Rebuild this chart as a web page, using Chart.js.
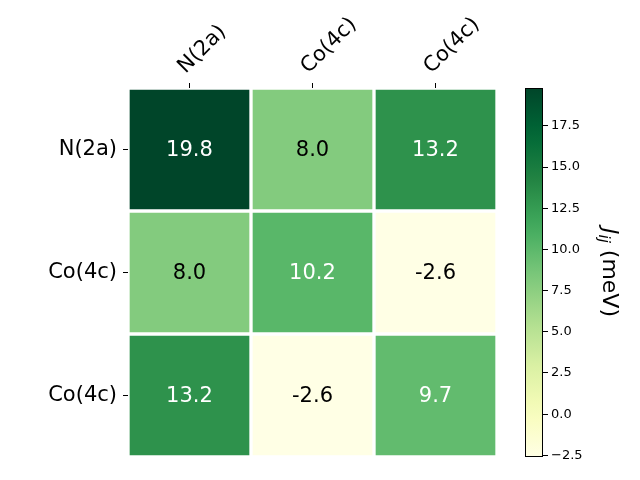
<!DOCTYPE html>
<html>
<head>
<meta charset="utf-8">
<script src="https://cdn.jsdelivr.net/npm/chart.js@4.4.1/dist/chart.umd.min.js"></script>
<style>
  body { margin: 0; background: #fff; }
  #wrap { position: relative; width: 640px; height: 480px; }
  canvas { position: absolute; left: 0; top: 0; }
</style>
</head>
<body>
<div id="wrap">
  <canvas id="heat" width="640" height="480"></canvas>
  <canvas id="cbar" width="640" height="480"></canvas>
</div>
<script>
// datos
const rowLabels = ['N(2a)', 'Co(4c)', 'Co(4c)'];
const colLabels = ['N(2a)', 'Co(4c)', 'Co(4c)'];
const row0 = [19.8, 8.0, 13.2];
const row1 = [8.0, 10.2, -2.6];
const row2 = [13.2, -2.6, 9.7];
const rows = [row0, row1, row2];
const vmin = -2.6;
const vmax = 19.8;
const cbarTicks = [-2.5, 0, 2.5, 5, 7.5, 10, 12.5, 15, 17.5];

Chart.defaults.font.family = 'DejaVu Sans';
Chart.defaults.color = '#000';

// paleta YlGn
const ylgn = ['#ffffe5', '#f7fcb9', '#d9f0a3', '#addd8e', '#78c679', '#41ab5d', '#238443', '#006837', '#004529'];
function hex(c) { return [1, 3, 5].map(i => parseInt(c.substr(i, 2), 16)); }
function cmap(t) {
  t = Math.min(1, Math.max(0, t));
  const p = t * (ylgn.length - 1);
  const i = Math.min(Math.floor(p), ylgn.length - 2);
  const f = p - i;
  const a = hex(ylgn[i]), b = hex(ylgn[i + 1]);
  const c = a.map((v, k) => Math.round(v + (b[k] - v) * f));
  return `rgb(${c[0]},${c[1]},${c[2]})`;
}
const norm = v => (v - vmin) / (vmax - vmin);

// etiquetas en las celdas
const cellText = {
  id: 'cellText',
  afterDatasetsDraw(chart) {
    const ctx = chart.ctx;
    ctx.save();
    ctx.font = '21px DejaVu Sans';
    ctx.textAlign = 'center';
    ctx.textBaseline = 'middle';
    chart.data.datasets.forEach((ds, r) => {
      chart.getDatasetMeta(r).data.forEach((el, c) => {
        const v = rows[r][c];
        ctx.fillStyle = norm(v) > 0.5 ? '#fff' : '#000';
        ctx.fillText(v.toFixed(1), el.x, (el.y + el.base) / 2 + 1);
      });
    });
    ctx.restore();
  }
};

new Chart(document.getElementById('heat'), {
  type: 'bar',
  data: {
    labels: colLabels,
    datasets: rows.map(r => ({
      data: r.map(() => 1),
      backgroundColor: r.map(v => cmap(norm(v))),
      borderColor: '#fff',
      borderWidth: 2,
      borderSkipped: false,
      barPercentage: 1,
      categoryPercentage: 1
    }))
  },
  options: {
    responsive: false,
    animation: false,
    layout: { padding: { left: 0, right: 143, top: 0, bottom: 23 } },
    plugins: { legend: { display: false }, tooltip: { enabled: false } },
    scales: {
      x: {
        position: 'top',
        stacked: true,
        grid: { drawOnChartArea: false, offset: false, tickLength: 5, color: '#000' },
        border: { display: false },
        ticks: { font: { size: 21 }, minRotation: 45, maxRotation: 45, padding: 4, labelOffset: 10 },
        afterFit: s => { s.height = 88; }
      },
      y: {
        stacked: true,
        reverse: true,
        min: 0,
        max: 3,
        grid: { drawOnChartArea: false, tickLength: 5, color: '#000' },
        border: { display: false },
        ticks: { font: { size: 21 }, padding: 6, callback: v => rowLabels[Math.floor(v)] },
        afterBuildTicks: s => { s.ticks = rowLabels.map((_, i) => ({ value: i + 0.5 })); },
        afterFit: s => { s.width = 128; }
      }
    }
  },
  plugins: [cellText]
});

// barra de color
const cbarLabel = {
  id: 'cbarLabel',
  afterDraw(chart) {
    const ctx = chart.ctx;
    const a = chart.chartArea;
    ctx.save();
    ctx.strokeStyle = '#000';
    ctx.lineWidth = 1;
    ctx.strokeRect(a.left + 0.5, a.top + 0.5, a.width - 1, a.height - 1);
    ctx.translate(603, (a.top + a.bottom) / 2);
    ctx.rotate(Math.PI / 2);
    ctx.textBaseline = 'alphabetic';
    ctx.fillStyle = '#000';
    const big = 'italic 22px DejaVu Sans', small = 'italic 15px DejaVu Sans', rest = '22px DejaVu Sans';
    ctx.font = big; const wJ = ctx.measureText('J').width;
    ctx.font = small; const wij = ctx.measureText('ij').width;
    ctx.font = rest; const wr = ctx.measureText(' (meV)').width;
    let x = -(wJ + wij + wr) / 2;
    ctx.font = big; ctx.fillText('J', x, 0); x += wJ;
    ctx.font = small; ctx.fillText('ij', x, 4); x += wij;
    ctx.font = rest; ctx.fillText(' (meV)', x, 0);
    ctx.restore();
  }
};

new Chart(document.getElementById('cbar'), {
  type: 'bar',
  data: {
    labels: [''],
    datasets: [{
      data: [[vmin, vmax]],
      backgroundColor: ctx => {
        const a = ctx.chart.chartArea;
        if (!a) return ylgn[4];
        const g = ctx.chart.ctx.createLinearGradient(0, a.bottom, 0, a.top);
        for (let i = 0; i <= 20; i++) g.addColorStop(i / 20, cmap(i / 20));
        return g;
      },
      barPercentage: 1,
      categoryPercentage: 1
    }]
  },
  options: {
    responsive: false,
    animation: false,
    layout: { padding: { left: 525, right: 0, top: 88, bottom: 23 } },
    plugins: { legend: { display: false }, tooltip: { enabled: false } },
    scales: {
      x: { display: false },
      y: {
        position: 'right',
        min: vmin,
        max: vmax,
        grid: { drawOnChartArea: false, tickLength: 5, color: '#000' },
        border: { display: false },
        ticks: { font: { size: 13 }, padding: 3, callback: v => v.toFixed(1).replace('-', '\u2212') },
        afterBuildTicks: s => { s.ticks = cbarTicks.map(v => ({ value: v })); },
        afterFit: s => { s.width = 97; }
      }
    }
  },
  plugins: [cbarLabel]
});
</script>
</body>
</html>
